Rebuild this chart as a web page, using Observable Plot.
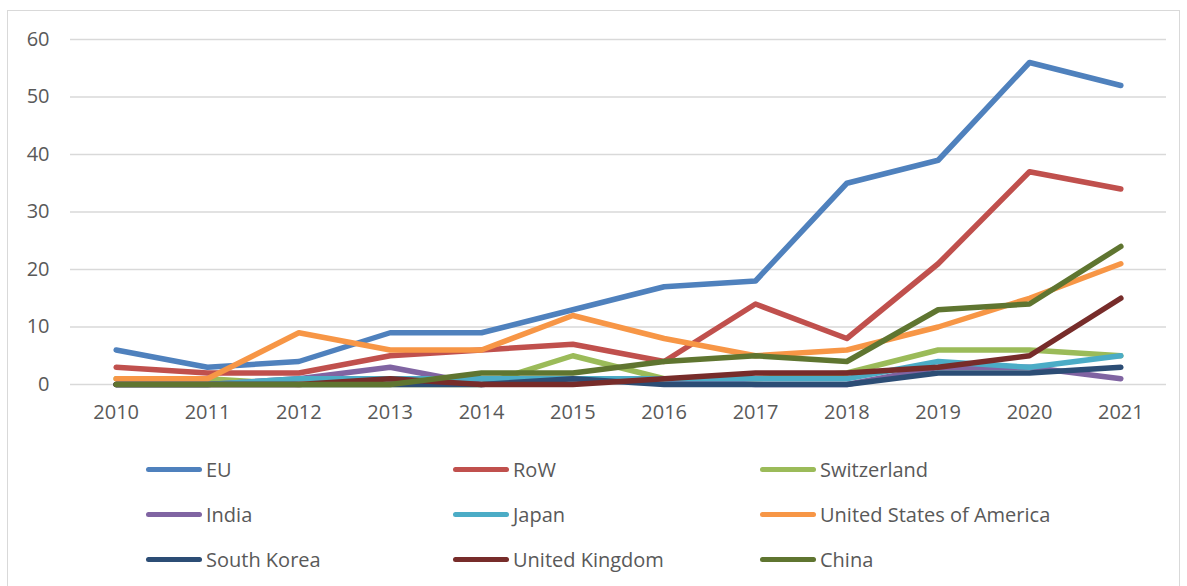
<!DOCTYPE html>
<html>
<head>
<meta charset="utf-8">
<script src="https://cdn.jsdelivr.net/npm/d3@7"></script>
<script src="https://cdn.jsdelivr.net/npm/@observablehq/plot@0.6"></script>
<style>
  html, body { margin: 0; padding: 0; background: #fff; }
  #frame { position: absolute; left: 7px; top: 10px; width: 1173px; height: 590px; border: 1px solid #d9d9d9; box-sizing: border-box; }
  #chart { position: absolute; left: 0; top: 0; }
  #legend { position: absolute; left: 0; top: 0; width: 1187px; height: 586px; pointer-events: none; font-family: "Open Sans", sans-serif; font-size: 20px; color: #595959; }
  .item { position: absolute; display: flex; align-items: center; white-space: nowrap; }
  .swatch { width: 56px; height: 5px; border-radius: 3px; margin-right: 4px; }
</style>
</head>
<body>
<div id="frame"></div>
<div id="chart"></div>
<div id="legend"></div>
<script>
const years = [2010, 2011, 2012, 2013, 2014, 2015, 2016, 2017, 2018, 2019, 2020, 2021];
const seriesNames = ["EU", "RoW", "Switzerland", "India", "Japan", "United States of America", "South Korea", "United Kingdom", "China"];
const seriesColors = ["#4F81BD", "#C0504D", "#9BBB59", "#8064A2", "#4BACC6", "#F79646", "#2C4D75", "#772C2A", "#5F7530"];
const EU          = [6, 3, 4, 9, 9, 13, 17, 18, 35, 39, 56, 52];
const RoW         = [3, 2, 2, 5, 6, 7, 4, 14, 8, 21, 37, 34];
const Switzerland = [1, 1, 0, 0, 0, 5, 1, 1, 2, 6, 6, 5];
const India       = [0, 0, 1, 3, 0, 1, 1, 0, 0, 3, 3, 1];
const Japan       = [0, 0, 1, 1, 1, 1, 1, 1, 1, 4, 3, 5];
const USA         = [1, 1, 9, 6, 6, 12, 8, 5, 6, 10, 15, 21];
const SouthKorea  = [0, 0, 0, 0, 0, 1, 0, 0, 0, 2, 2, 3];
const UK          = [0, 0, 0, 1, 0, 0, 1, 2, 2, 3, 5, 15];
const China       = [0, 0, 0, 0, 2, 2, 4, 5, 4, 13, 14, 24];
const yTicks = [0, 10, 20, 30, 40, 50, 60];

const seriesValues = [EU, RoW, Switzerland, India, Japan, USA, SouthKorea, UK, China];
const data = [];
seriesNames.forEach((name, i) => {
  years.forEach((yr, j) => data.push({series: name, year: yr, value: seriesValues[i][j]}));
});

const chart = Plot.plot({
  width: 1187,
  height: 440,
  marginLeft: 70,
  marginRight: 21,
  marginTop: 39,
  marginBottom: 56,
  style: {fontFamily: "Open Sans, sans-serif", fontSize: "20px", color: "#595959", background: "transparent"},
  x: {domain: [years[0] - 0.5, years[years.length - 1] + 0.5], ticks: years, tickFormat: d => String(d), tickSize: 0, tickPadding: 20, label: null},
  y: {domain: [0, 60], ticks: yTicks, tickSize: 0, tickPadding: 21, label: null},
  color: {domain: seriesNames, range: seriesColors},
  marks: [
    Plot.ruleY(yTicks, {x1: years[0] - 0.5, x2: years[years.length - 1] + 0.5, stroke: "#d9d9d9", strokeWidth: 1.5}),
    Plot.line(data, {x: "year", y: "value", z: "series", stroke: "series", strokeWidth: 5.5, strokeLinecap: "round", strokeLinejoin: "round"})
  ]
});
document.getElementById("chart").appendChild(chart);

const legend = document.getElementById("legend");
const colX = [146, 453, 760];
const rowY = [469, 514, 559];
seriesNames.forEach((name, i) => {
  const item = document.createElement("div");
  item.className = "item";
  item.style.left = colX[i % 3] + "px";
  item.style.top = (rowY[Math.floor(i / 3)] - 14) + "px";
  item.style.height = "28px";
  const sw = document.createElement("div");
  sw.className = "swatch";
  sw.style.background = seriesColors[i];
  const tx = document.createElement("span");
  tx.textContent = name;
  item.appendChild(sw);
  item.appendChild(tx);
  legend.appendChild(item);
});
</script>
</body>
</html>
